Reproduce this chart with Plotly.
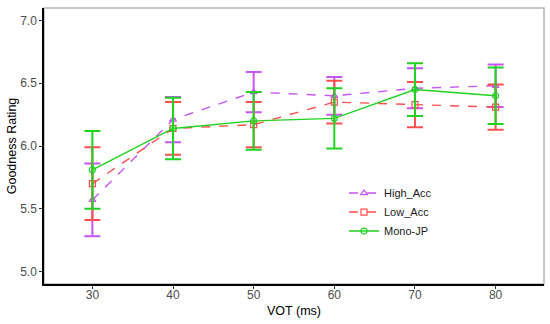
import plotly.graph_objects as go

vot = [30, 40, 50, 60, 70, 80]
groups = ["High_Acc", "Low_Acc", "Mono-JP"]
high_mean = [5.57, 6.21, 6.43, 6.40, 6.46, 6.48]
high_err = [0.29, 0.18, 0.16, 0.15, 0.16, 0.17]
low_mean = [5.70, 6.14, 6.17, 6.35, 6.33, 6.31]
low_err = [0.29, 0.21, 0.18, 0.17, 0.18, 0.18]
mono_mean = [5.81, 6.14, 6.20, 6.22, 6.45, 6.40]
mono_err = [0.31, 0.245, 0.23, 0.24, 0.21, 0.225]
y_ticks = [5.0, 5.5, 6.0, 6.5, 7.0]

colors = ["#C855F5", "#FF4F4F", "#1ED41E"]
dashes = ["dash", "dash", "solid"]
symbols = ["triangle-up-open", "square-open", "circle-open"]
means = [high_mean, low_mean, mono_mean]
errs = [high_err, low_err, mono_err]

fig = go.Figure()
for name, m, e, c, d, s in zip(groups, means, errs, colors, dashes, symbols):
    fig.add_trace(go.Scatter(
        x=vot, y=m, name=name, mode="lines+markers",
        line=dict(color=c, width=1.4, dash=d),
        marker=dict(symbol=s, size=6, color=c, line=dict(width=1.2, color=c)),
        error_y=dict(type="data", array=e, visible=True, color=c, thickness=2, width=8),
    ))

fig.update_layout(
    width=550, height=324,
    margin=dict(l=44, r=6, t=8, b=40),
    paper_bgcolor="white", plot_bgcolor="white",
    font=dict(family="Liberation Sans, Arial", size=12, color="#4D4D4D"),
    showlegend=True,
    legend=dict(x=0.60, y=0.382, xanchor="left", yanchor="top",
                bgcolor="rgba(0,0,0,0)", font=dict(size=11, color="#1A1A1A"),
                tracegroupgap=0, itemwidth=30),
)
fig.update_xaxes(
    range=[24, 86], tickvals=vot, ticktext=[str(v) for v in vot], automargin=False,
    showgrid=False, zeroline=False, showline=True, linecolor="black", linewidth=1.5,
    ticks="outside", ticklen=3, tickcolor="#333333", ticklabelstandoff=-4,
    tickfont=dict(size=12, color="#4D4D4D"),
    title=dict(text="VOT (ms)", font=dict(size=12.5, color="black"), standoff=5),
)
fig.update_yaxes(
    range=[4.9, 7.1], tickvals=y_ticks, ticktext=[f"{v:.1f}" for v in y_ticks], automargin=False,
    showgrid=False, zeroline=False, showline=True, linecolor="black", linewidth=1.5,
    ticks="outside", ticklen=3, tickcolor="#333333",
    tickfont=dict(size=12, color="#4D4D4D"),
    title=dict(text="Goodness Rating", font=dict(size=12.5, color="black"), standoff=1),
)
fig.add_shape(type="rect", xref="paper", yref="paper", x0=0, x1=1, y0=0, y1=1,
              line=dict(color="#B3B3B3", width=1.5), layer="below")
fig.write_html("out.html", config={"displayModeBar": False},
               post_script="document.body.style.margin='0';")
